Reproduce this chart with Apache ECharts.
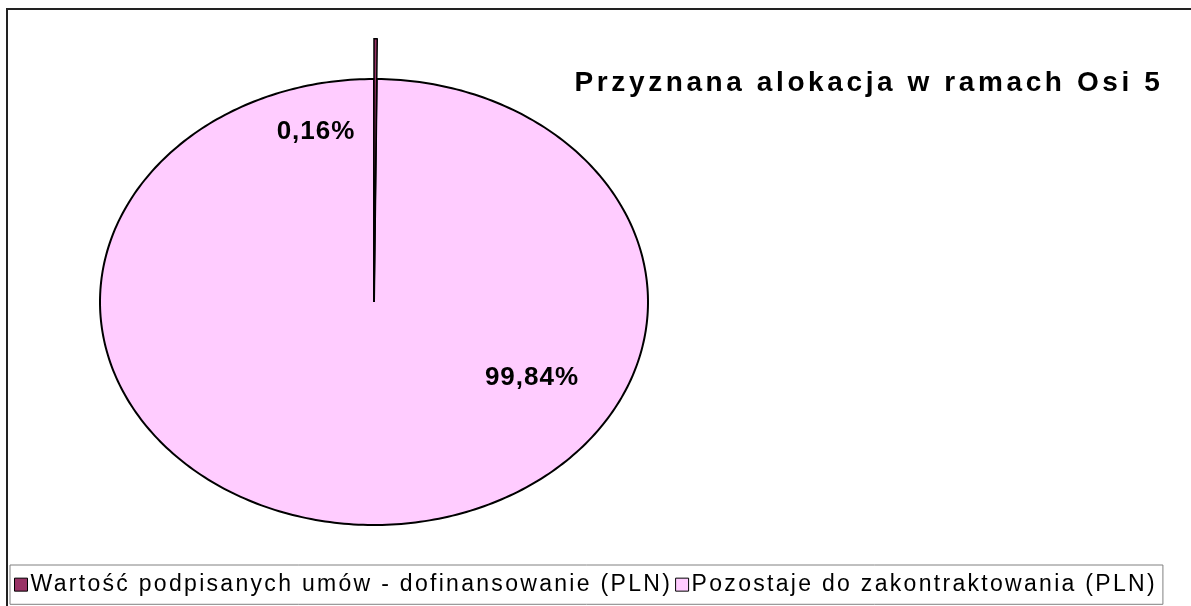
<!DOCTYPE html>
<html>
<head>
<meta charset="utf-8">
<script src="https://cdn.jsdelivr.net/npm/echarts@6/dist/echarts.min.js"></script>
<style>
  html, body { margin: 0; padding: 0; background: #fff; }
  #chart { width: 1191px; height: 606px; }
</style>
</head>
<body>
<div id="chart"></div>
<script>
// dane wykresu
const categories = ['Wartość podpisanych umów - dofinansowanie (PLN)', 'Pozostaje do zakontraktowania (PLN)'];
const shares = [0.16, 99.84];
const colors = ['#993366', '#FFCCFF'];
const title = 'Przyznana alokacja w ramach Osi 5';

const total = shares.reduce((a, b) => a + b, 0);
const FONT = '"Liberation Sans", Arial, sans-serif';

// rozstrzelenie liter jak w oryginale (Excel), zależnie od rozmiaru czcionki
const LETTER_SPACING = { '28': '3.6px', '26': '1px', '23': '2.3px' };
const fontDesc = Object.getOwnPropertyDescriptor(CanvasRenderingContext2D.prototype, 'font');
Object.defineProperty(CanvasRenderingContext2D.prototype, 'font', {
  configurable: true,
  get: function () { return fontDesc.get.call(this); },
  set: function (v) {
    fontDesc.set.call(this, v);
    const m = /(\d+)px/.exec(v);
    if ('letterSpacing' in this) this.letterSpacing = (m && LETTER_SPACING[m[1]]) || '0px';
  },
});

// geometria elipsy
const CX = 374, CY = 302, RX = 274, RY = 223;
// mały wycinek wystaje ponad elipsę
const radiusScale = [1.18, 1];
const labelOffsets = [[-58, -170], [158, 76]];

function fmt(v) {
  return (v / total * 100).toFixed(2).replace('.', ',') + '%';
}

function renderSlice(params, api) {
  const idx = params.seriesIndex;
  const start = api.value(0);
  const val = api.value(1);
  const a0 = -Math.PI / 2 + start / total * Math.PI * 2;
  const a1 = -Math.PI / 2 + (start + val) / total * Math.PI * 2;
  const k = radiusScale[idx];
  const n = Math.max(4, Math.ceil((a1 - a0) / (Math.PI * 2) * 360));
  const pts = [[CX, CY]];
  for (let i = 0; i <= n; i++) {
    const a = a0 + (a1 - a0) * i / n;
    pts.push([CX + Math.cos(a) * RX * k, CY + Math.sin(a) * RY * k]);
  }
  return {
    type: 'group',
    children: [
      {
        type: 'polygon',
        shape: { points: pts },
        style: { fill: colors[idx], stroke: '#000', lineWidth: idx === 0 ? 1.5 : 2 },
      },
      {
        type: 'text',
        x: CX + labelOffsets[idx][0],
        y: CY + labelOffsets[idx][1],
        style: {
          text: fmt(val),
          fill: '#000',
          font: 'bold 26px ' + FONT,
          align: 'center',
          verticalAlign: 'middle',
        },
        z2: 10,
      },
    ],
  };
}

let acc = 0;
const series = categories.map((name, i) => {
  const item = { value: [acc, shares[i]] };
  acc += shares[i];
  return {
    name: name,
    type: 'custom',
    coordinateSystem: 'none',
    renderItem: renderSlice,
    itemStyle: { color: colors[i], borderColor: '#000', borderWidth: 1 },
    data: [item],
    z: i === 0 ? 3 : 2,
    silent: true,
  };
});

const chart = echarts.init(document.getElementById('chart'), null, { renderer: 'canvas' });
chart.setOption({
  animation: false,
  backgroundColor: '#fff',
  title: {
    text: title,
    left: 869,
    top: 83,
    textAlign: 'center',
    textVerticalAlign: 'middle',
    padding: 0,
    textStyle: { fontFamily: FONT, fontSize: 28, fontWeight: 'bold', color: '#000' },
  },
  legend: {
    left: 10,
    top: 565,
    orient: 'horizontal',
    icon: 'rect',
    itemWidth: 13,
    itemHeight: 13,
    itemGap: 3,
    padding: [7, 6, 7, 4],
    borderColor: '#808080',
    borderWidth: 1,
    selectedMode: false,
    itemStyle: { borderColor: '#000', borderWidth: 1 },
    textStyle: { fontFamily: FONT, fontSize: 23, color: '#000', padding: [0, 0, 0, -2] },
    data: categories,
  },
  graphic: [
    {
      type: 'rect',
      shape: { x: 7, y: 9, width: 1200, height: 620 },
      style: { fill: null, stroke: '#222', lineWidth: 2 },
      silent: true,
    },
  ],
  series: series,
});
</script>
</body>
</html>
